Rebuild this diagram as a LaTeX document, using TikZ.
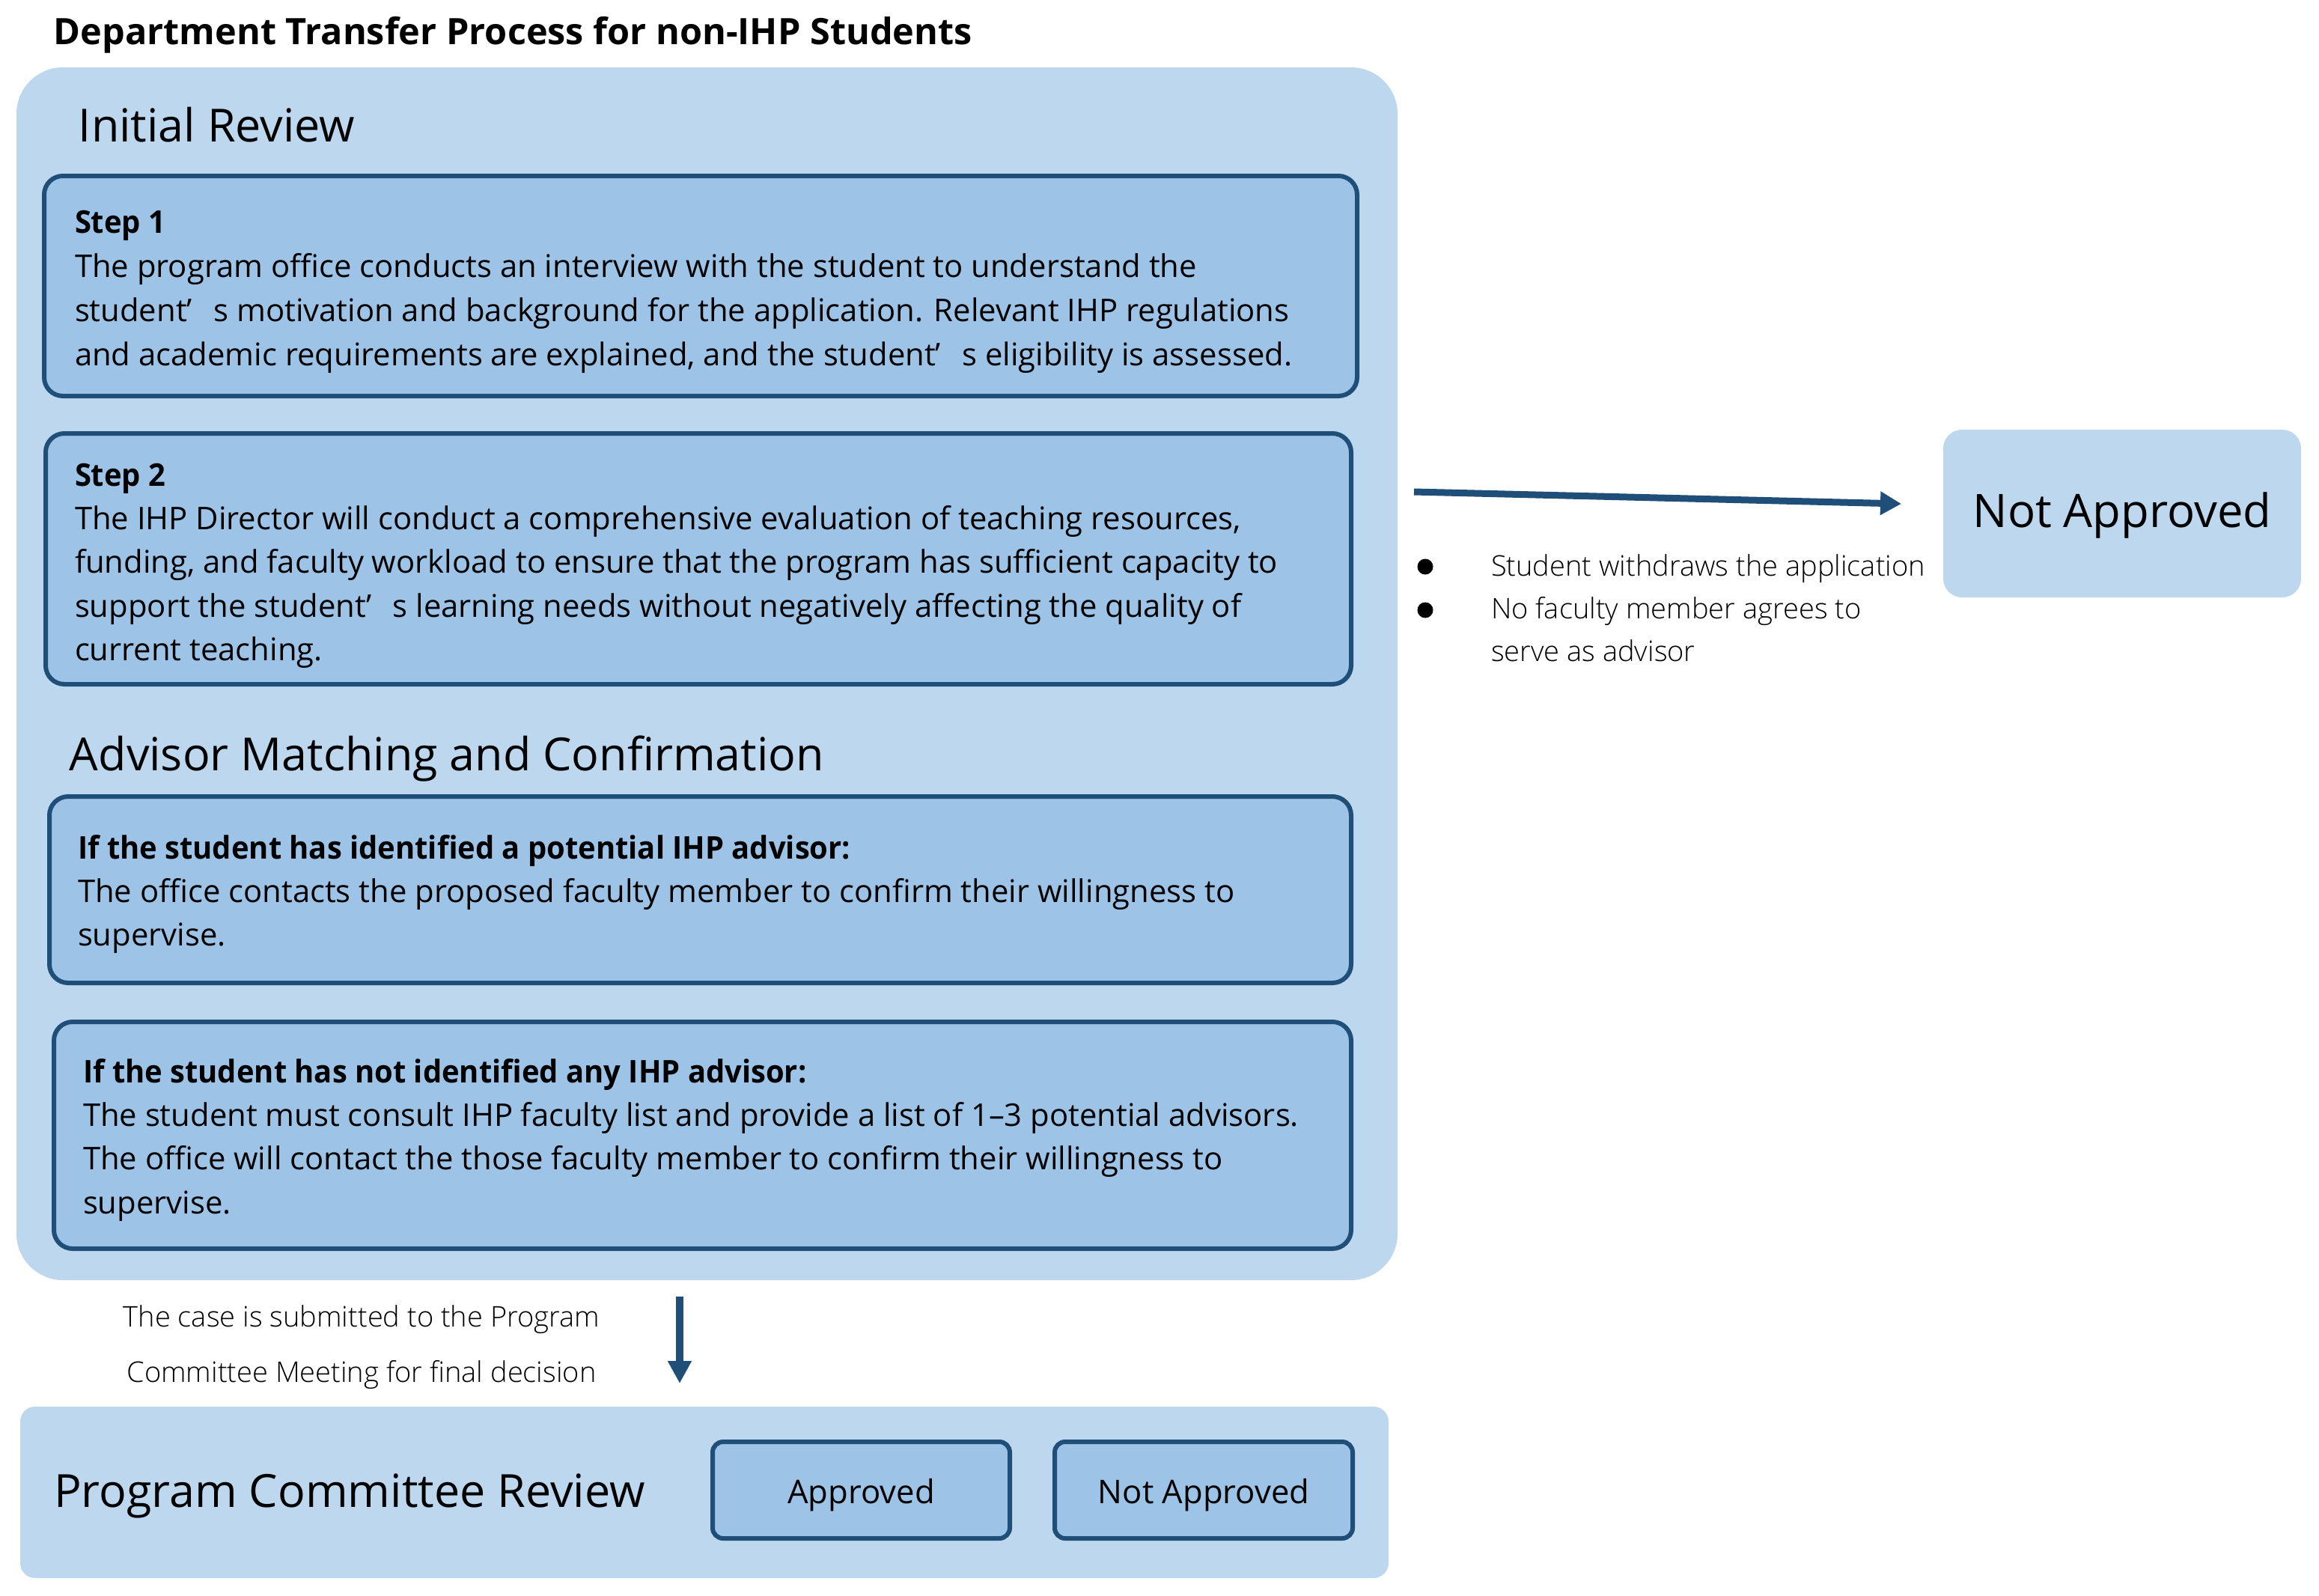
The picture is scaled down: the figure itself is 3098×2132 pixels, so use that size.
\documentclass[tikz,border=0pt]{standalone}
\usepackage{fontspec}
\setmainfont{Open Sans}[BoldFeatures={FakeStretch=0.955}]
\newfontfamily\titlefont{Open Sans}
\IfFontExistsTF{Open Sans Light}{\newfontfamily\lightfont{Open Sans Light}}{\newfontfamily\lightfont{Open Sans}}
\usetikzlibrary{arrows.meta}
\definecolor{outerblue}{HTML}{BDD7EE}
\definecolor{innerblue}{HTML}{9DC3E6}
\definecolor{darkblue}{HTML}{1F4E79}
\newcommand\fwap{\makebox[0.85em][l]{’}}
\newcommand\tstrut{\rule{0pt}{12pt}}
\newcommand\bodyfont{\fontsize{10.45pt}{14.6pt}\selectfont}
\newcommand\headfont{\fontsize{15.25pt}{18pt}\selectfont}
\begin{document}
\begin{tikzpicture}[x=0.25pt,y=-0.25pt,
  panel/.style={rectangle, fill=outerblue, inner sep=0, outer sep=0},
  stepbox/.style={rectangle, fill=innerblue, draw=darkblue, line width=1.5pt, rounded corners=6.25pt, inner sep=0, outer sep=0},
  resbox/.style={stepbox, rounded corners=3.5pt, minimum width=99.25pt, minimum height=32.25pt, font=\fontsize{10.9pt}{13pt}\selectfont, text height=8.75pt, text depth=0pt},
  txt/.style={inner sep=0, outer sep=0, anchor=north west, align=left},
  heading/.style={inner sep=0, outer sep=0, anchor=base west, font=\headfont},
  lighttxt/.style={txt, font=\lightfont\fontsize{9.5pt}{14.25pt}\selectfont},
  flow/.style={draw=darkblue},
]
\useasboundingbox (0,0) rectangle (3098,2132);
\fill[white] (0,0) rectangle (3098,2132);

% panels
\node[panel, rounded corners=15.5pt, minimum width=461.25pt, minimum height=405pt] (outer) at (944.5,900) {};
\node[panel, rounded corners=5pt, minimum width=457pt, minimum height=57.25pt] (pcr) at (941,1993.5) {};
\node[panel, rounded corners=6.25pt, minimum width=119.5pt, minimum height=56pt,
      font=\fontsize{15.4pt}{18pt}\selectfont, text height=9pt, text depth=0pt] (na) at (2835,686) {Not Approved};

% title and headings
\node[inner sep=0, anchor=base west, font=\titlefont\fontsize{12.15pt}{14pt}\selectfont\bfseries] (title) at (71,59) {Department Transfer Process for non-IHP Students};
\node[heading] (h1) at (105,189) {Initial Review};
\node[heading] (h2) at (93,1029) {Advisor Matching and Confirmation};
\node[heading] (h3) at (72,2013) {Program Committee Review};

% step boxes
\node[stepbox, minimum width=438.5pt, minimum height=73.5pt] (s1) at (936,382) {};
\node[stepbox, minimum width=436pt, minimum height=83.75pt] (s2) at (933,746.5) {};
\node[stepbox, minimum width=434.75pt, minimum height=62.25pt] (s3) at (935.5,1188.5) {};
\node[stepbox, minimum width=433.25pt, minimum height=75.75pt] (s4) at (938.5,1516.5) {};

\node[txt, font=\fontsize{10.45pt}{14.75pt}\selectfont] (t1) at (100,263) {\tstrut\textbf{Step 1}\\
The program office conducts an interview with the student to understand the\\
student\fwap s motivation and background for the application. Relevant IHP regulations\\
and academic requirements are explained, and the student\fwap s eligibility is assessed.};

\node[txt, font=\bodyfont] (t2) at (100,601) {\tstrut\textbf{Step 2}\\
The IHP Director will conduct a comprehensive evaluation of teaching resources,\\
funding, and faculty workload to ensure that the program has sufficient capacity to\\
support the student\fwap s learning needs without negatively affecting the quality of\\
current teaching.};

\node[txt, font=\bodyfont] (t3) at (104,1099) {\tstrut\textbf{If the student has identified a potential IHP advisor:}\\
The office contacts the proposed faculty member to confirm their willingness to\\
supervise.};

\node[txt, font=\bodyfont] (t4) at (111,1398) {\tstrut\textbf{If the student has not identified any IHP advisor:}\\
The student must consult IHP faculty list and provide a list of 1–3 potential advisors.\\
The office will contact the those faculty member to confirm their willingness to\\
supervise.};

% decision boxes
\node[resbox] (ap) at (1150.5,1990.5) {Approved};
\node[resbox, minimum width=99.5pt] (nap) at (1608,1990.5) {Not Approved};

% submission note and arrow
\node[txt, anchor=north, align=center, font=\lightfont\fontsize{9.5pt}{18.5pt}\selectfont] (sub) at (483,1724) {\tstrut The case is submitted to the Program\\Committee Meeting for final decision};
\coordinate (a2s) at (908,1732);
\coordinate (a2e) at (908,1848);
\draw[flow, line width=2.5pt, -{Triangle[length=7.5pt,width=7.5pt]}] (a2s) -- (a2e);

% rejection arrow and reasons
\coordinate (a1s) at (1889,657);
\coordinate (a1e) at (2540,673);
\draw[flow, line width=2.25pt, -{Triangle[length=7pt,width=7.5pt]}] (a1s) -- (a1e);
\node[circle, fill=black, inner sep=0, minimum size=5.25pt] (b1) at (1904,757) {};
\node[circle, fill=black, inner sep=0, minimum size=5.25pt] (b2) at (1904,815) {};
\node[lighttxt] (reasons) at (1992,721) {\tstrut Student withdraws the application\\No faculty member agrees to\\serve as advisor};
\end{tikzpicture}
\end{document}
